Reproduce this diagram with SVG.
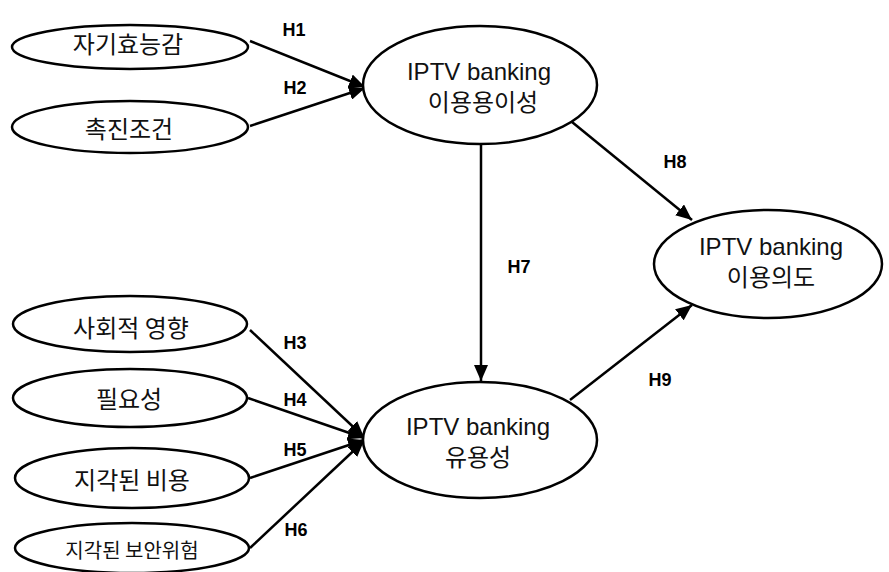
<svg xmlns="http://www.w3.org/2000/svg" width="889" height="572" viewBox="0 0 889 572">
<style>
.node ellipse{fill:#fff;stroke:#000;stroke-width:2.5}
.kt{font-family:"Noto Sans CJK KR","Liberation Sans",sans-serif;font-size:24px;fill:#111;text-anchor:middle}
.et{font-family:"Liberation Sans",Arial,sans-serif;font-size:24px;fill:#111;text-anchor:middle}
.lab{font-family:"Liberation Sans",Arial,sans-serif;font-size:18px;font-weight:bold;fill:#000;text-anchor:middle}
.edge{stroke:#000;stroke-width:2.5;fill:none;marker-end:url(#ah)}
</style>
<defs>
<marker id="ah" markerUnits="userSpaceOnUse" markerWidth="18" markerHeight="14" refX="16" refY="7" orient="auto">
<path d="M0,0 L16,7 L0,14 Z" fill="#000"/>
</marker>
</defs>
<rect width="889" height="572" fill="#fff"/>
<g id="connectors">
<line class="edge" x1="250" y1="41" x2="365" y2="87"/>
<line class="edge" x1="250" y1="126" x2="365" y2="88"/>
<line class="edge" x1="572" y1="122" x2="692" y2="220"/>
<line class="edge" x1="481" y1="143" x2="481" y2="381"/>
<line class="edge" x1="570" y1="400" x2="692" y2="305"/>
<line class="edge" x1="250" y1="330" x2="364" y2="437"/>
<line class="edge" x1="248" y1="398" x2="364" y2="438"/>
<line class="edge" x1="250" y1="478" x2="364" y2="440"/>
<line class="edge" x1="250" y1="548" x2="364" y2="441"/>
<text class="lab" x="294" y="36">H1</text>
<text class="lab" x="295" y="94">H2</text>
<text class="lab" x="295" y="349">H3</text>
<text class="lab" x="295" y="406">H4</text>
<text class="lab" x="295" y="456">H5</text>
<text class="lab" x="296" y="536">H6</text>
<text class="lab" x="519" y="273">H7</text>
<text class="lab" x="675" y="168">H8</text>
<text class="lab" x="660" y="386">H9</text>
</g>
<g id="n1" class="node"><ellipse cx="130" cy="47" rx="118" ry="22"/><text class="kt" x="128" y="53">자기효능감</text></g>
<g id="n2" class="node"><ellipse cx="130" cy="127" rx="118" ry="26"/><text class="kt" x="129" y="138">촉진조건</text></g>
<g id="n3" class="node"><ellipse cx="480" cy="85" rx="117" ry="59"/><text class="et" x="479" y="80">IPTV banking</text><text class="kt" x="483" y="111">이용용이성</text></g>
<g id="n4" class="node"><ellipse cx="768" cy="264" rx="114" ry="54"/><text class="et" x="771" y="255">IPTV banking</text><text class="kt" x="771" y="286">이용의도</text></g>
<g id="n5" class="node"><ellipse cx="480" cy="440" rx="117" ry="58"/><text class="et" x="478" y="435">IPTV banking</text><text class="kt" x="478" y="466">유용성</text></g>
<g id="n6" class="node"><ellipse cx="130" cy="324" rx="117" ry="28"/><text class="kt" x="131" y="337">사회적 영향</text></g>
<g id="n7" class="node"><ellipse cx="130" cy="398" rx="117" ry="29"/><text class="kt" x="129" y="408">필요성</text></g>
<g id="n8" class="node"><ellipse cx="132" cy="478" rx="117" ry="30"/><text class="kt" x="132" y="489">지각된 비용</text></g>
<g id="n9" class="node"><ellipse cx="132" cy="548" rx="117" ry="25"/><text class="kt" x="132" y="558" style="font-size:20px">지각된 보안위험</text></g>
</svg>
